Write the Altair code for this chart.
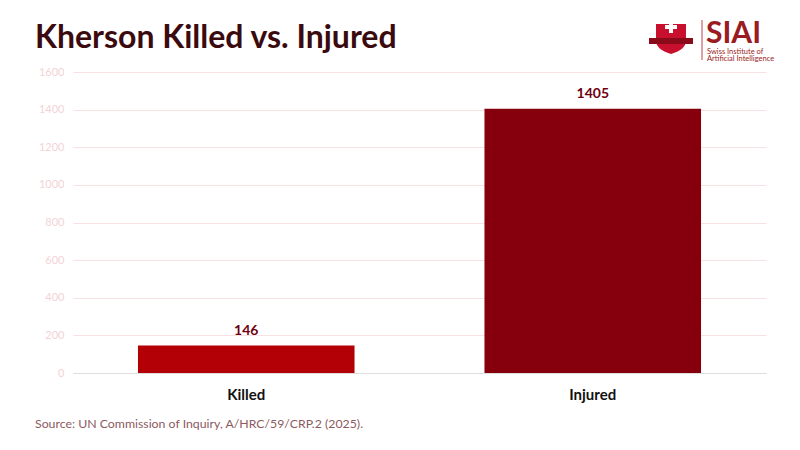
import altair as alt
import pandas as pd

categories = ["Killed", "Injured"]
values = [146, 1405]
colors = ["#b30006", "#85000c"]

title_text = "Kherson Killed vs. Injured"
source_text = "Source: UN Commission of Inquiry, A/HRC/59/CRP.2 (2025)."
y_ticks = [0, 200, 400, 600, 800, 1000, 1200, 1400, 1600]

df = pd.DataFrame({"category": categories, "value": values, "color": colors})

FONT = "Lato"
W, H = 693, 301

x_enc = alt.X("category:N", sort=categories, title=None,
              scale=alt.Scale(paddingInner=0.375, paddingOuter=0.1875),
              axis=alt.Axis(labelAngle=0, labelFontSize=15, labelFontWeight="bold",
                            labelColor="#111111", labelPadding=14, ticks=False,
                            domainColor="#dddddd", labelFont=FONT))
y_enc = alt.Y("value:Q", title=None,
              scale=alt.Scale(domain=[0, 1600]),
              axis=alt.Axis(values=y_ticks, format="d", labelOverlap=False,
                            tickCount=20,
                            labelColor="#f3d3d6", labelFontSize=11,
                            labelPadding=9, ticks=False, domain=False,
                            gridColor="#f8e2e4", labelFont=FONT))

base = alt.Chart(df)

bars = base.mark_bar().encode(
    x=x_enc, y=y_enc,
    color=alt.Color("color:N", scale=None),
)

labels = base.mark_text(baseline="bottom", dy=-8, fontSize=14, fontWeight="bold",
                        color="#6e0010", font=FONT).encode(
    x=x_enc, y=y_enc, text="value:Q",
)

def txt(s, x, y, **kw):
    return alt.Chart(pd.DataFrame({"t": [s]})).mark_text(
        align="left", baseline="alphabetic", font=FONT, **kw
    ).encode(x=alt.value(x), y=alt.value(y), text="t:N")

title = txt(title_text, -38, -24, fontSize=32, fontWeight="bold", color="#3b0a0e")
source = txt(source_text, -38, 356, fontSize=12.3, color="#8c5a60")

# logo
siai = txt("SIAI", 633, -29, fontSize=30, fontWeight="bold", color="#9b1b22")
sub1 = txt("Swiss Institute of", 634, -18, fontSize=7.5, color="#9b1b22")
sub2 = txt("Artificial Intelligence", 634, -11, fontSize=7.5, color="#9b1b22")
vline = alt.Chart(pd.DataFrame({"a": [0]})).mark_rule(color="#c0404a", strokeWidth=1).encode(
    x=alt.value(629), y=alt.value(-52), y2=alt.value(-12))
shield = alt.Chart(pd.DataFrame({"a": [0]})).mark_point(
    filled=True, opacity=1, color="#c8102e", size=900,
    shape="M-1,-1 L1,-1 L1,0.1 Q1,0.7 0,1 Q-1,0.7 -1,0.1 Z"
).encode(x=alt.value(598), y=alt.value(-33))
ribbon = alt.Chart(pd.DataFrame({"a": [0]})).mark_rect(color="#8b0a1a").encode(
    x=alt.value(576), x2=alt.value(620), y=alt.value(-34), y2=alt.value(-28))
cross_h = alt.Chart(pd.DataFrame({"a": [0]})).mark_rect(color="white").encode(
    x=alt.value(592), x2=alt.value(604), y=alt.value(-47), y2=alt.value(-43))
cross_v = alt.Chart(pd.DataFrame({"a": [0]})).mark_rect(color="white").encode(
    x=alt.value(596), x2=alt.value(600), y=alt.value(-51), y2=alt.value(-39))

chart = alt.layer(bars, labels, title, source, vline, shield, ribbon, cross_h, cross_v,
                  siai, sub1, sub2).properties(
    width=W, height=H,
    autosize=alt.AutoSizeParams(type="none"),
    padding={"left": 65, "top": 64, "right": 26, "bottom": 69},
).configure_view(stroke=None)

chart.save("out.html", embed_options={"renderer": "svg", "actions": False})
